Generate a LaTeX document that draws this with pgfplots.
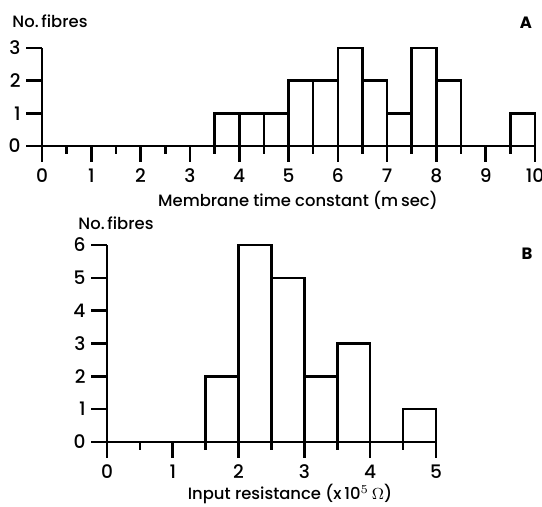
\documentclass[border=0pt]{standalone}
\usepackage{fontspec}
\setmainfont{Poppins}[UprightFont={* Medium}, BoldFont={* Bold}]
\usepackage{pgfplots}
\pgfplotsset{compat=1.18}

\newcommand\lab{\fontsize{8.2}{9.5}\selectfont}
\newcommand\tlab{\fontsize{9.3}{10}\selectfont}

\pgfplotsset{
  histo/.style={
    scale only axis,
    anchor=south west,
    clip=false,
    axis lines=left,
    axis line style={-, line width=1.3pt},
    tick align=outside,
    major tick length=8pt,
    minor tick length=4pt,
    every tick/.style={black, line width=1.3pt},
    ymin=0, xmin=0,
    /pgf/number format/assume math mode=true,
    tick label style={font=\tlab},
    yticklabel style={xshift=0.8pt},
  },
  bars/.style={ybar interval, fill=white, draw=black, line width=1.3pt},
}

\begin{document}
\begin{tikzpicture}
\useasboundingbox (0,0) rectangle (271pt,-253.5pt);

% panel A
\begin{axis}[histo,
  at={(21pt,-73pt)},
  width=246.5pt, height=49pt,
  xmax=10, ymax=3,
  xtick={0,...,10}, minor xtick={0.5,1.5,...,9.5},
  ytick={0,1,2,3},
]
\addplot[bars] coordinates {
  (3.5,1) (4,1) (4.5,1) (5,2) (5.5,2) (6,3) (6.5,2) (7,1)
  (7.5,3) (8,2) (8.5,0) (9,0) (9.5,1) (10,1)
};
\end{axis}

% panel B
\begin{axis}[histo,
  at={(53.5pt,-221pt)},
  width=164.5pt, height=98.5pt,
  xmax=5, ymax=6,
  xtick={0,...,5}, minor xtick={0.5,1.5,...,4.5},
  ytick={0,...,6},
]
\addplot[bars] coordinates {
  (1.5,2) (2,6) (2.5,5) (3,2) (3.5,3) (4,0) (4.5,1) (5,1)
};
\end{axis}

\node[font=\lab] at (25pt,-10.5pt) {No.\,fibres};
\node[font=\lab\bfseries] at (263pt,-11.5pt) {A};
\node[font=\lab] at (149pt,-100pt) {Membrane time constant (m\,sec)};

\node[font=\lab] at (58pt,-111.5pt) {No.\,fibres};
\node[font=\lab\bfseries] at (263.5pt,-127pt) {B};
\node[font=\lab] at (145pt,-247pt) {Input resistance (x\,10$^{5}\,\Omega$)};
\end{tikzpicture}
\end{document}
